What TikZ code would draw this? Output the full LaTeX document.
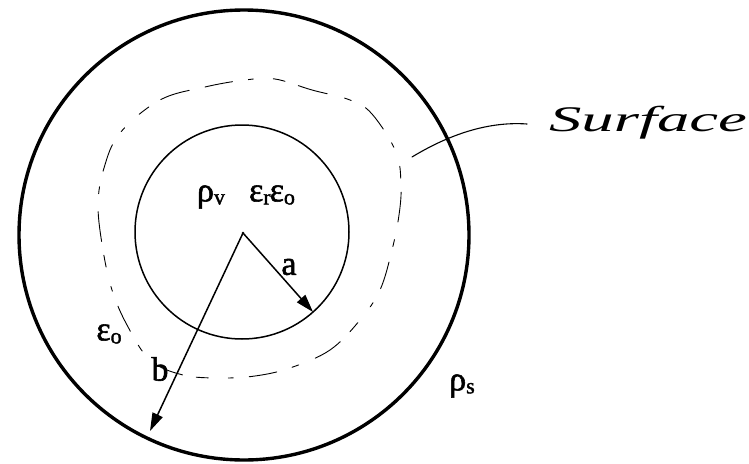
\documentclass[tikz,border=0pt]{standalone}
\usepackage{fontspec}
\setmainfont{Liberation Serif}
\newfontfamily\lblfont[FakeBold=1.6]{Liberation Serif}
\usetikzlibrary{arrows.meta}
\newcommand{\lowsub}[1]{\raisebox{-3pt}{\fontsize{22}{22}\selectfont #1}}
\begin{document}
\begin{tikzpicture}[x=1pt,y=-1pt,
  lbl/.style={font=\lblfont\fontsize{34}{36}\selectfont, inner sep=0pt},
  radius arrow/.style={line width=1.5pt, -{Triangle[length=18pt,width=11pt]}},
  surf line/.style={line width=0.9pt, line cap=round,
    dash pattern=on 28pt off 16pt on 5pt off 20pt on 12pt off 14pt on 30pt off 18pt on 7pt off 16pt}]
\useasboundingbox (0,0) rectangle (749,463);
\fill[white] (0,0) rectangle (749,463);
\coordinate (O) at (243,233);
\coordinate (C) at (244,235);
\coordinate (A) at (313,312);
\coordinate (B) at (150,431);
% outer sphere
\draw[line width=3.4pt] (C) circle[radius=225pt];
% inner sphere
\draw[line width=1.5pt] (242,232) circle[radius=107pt];
% gaussian surface (irregular dashed)
\draw[surf line] plot[smooth cycle, tension=0.6] coordinates {
 (160,100) (205,87) (245,80) (275,79) (312,90) (350,100) (372,114)
 (396,152) (401,185) (399,215) (392,250) (380,290) (360,320) (330,350)
 (290,368) (255,376) (220,378) (183,375) (150,360) (127,325) (112,290)
 (103,250) (98,205) (104,168) (120,133)};
\fill (O) circle[radius=1.3pt];
\draw[radius arrow] (O) -- (A);
\draw[radius arrow] (O) -- (B);
% labels
\node[lbl] (rhov) at (211,197) {ρ\lowsub{v}};
\node[lbl] (eps) at (272,195) {ε\lowsub{r}\kern-1ptε\lowsub{o}};
\node[lbl] (la) at (289,267) {a};
\node[lbl] (lb) at (160,369) {b};
\node[lbl] (eps0) at (109,334) {ε\lowsub{o}};
\node[lbl] (rhos) at (462,386) {ρ\lowsub{s}};
\node[font=\itshape\fontsize{36}{38}\selectfont, inner sep=0pt, xscale=1.8] (surf) at (648,123) {Surface};
\coordinate (L1) at (412,157);
\draw[line width=1.1pt, line cap=round] (L1) .. controls (445,137) and (485,121) .. (527,124);
\end{tikzpicture}
\end{document}
